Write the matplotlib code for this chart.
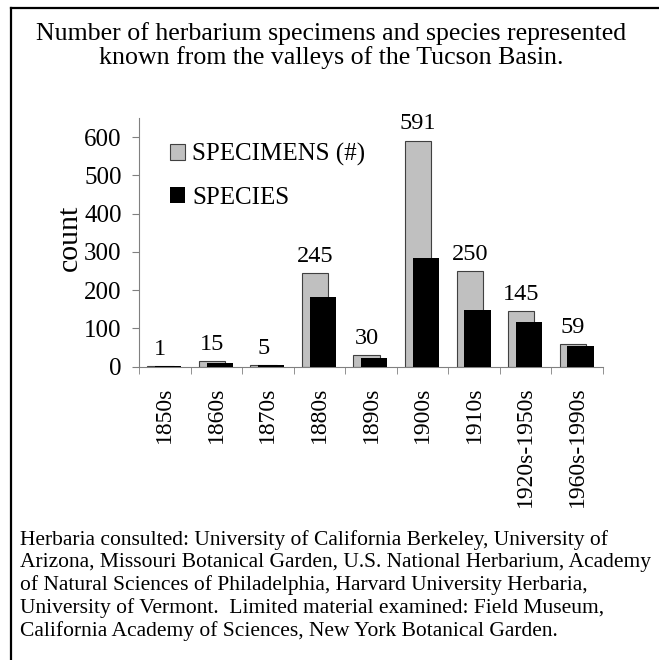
import numpy as np
import matplotlib.pyplot as plt
from matplotlib.lines import Line2D

plt.rcParams["font.family"] = ["Liberation Serif", "DejaVu Serif"]

decades = ["1850s", "1860s", "1870s", "1880s", "1890s", "1900s", "1910s",
           "1920s-1950s", "1960s-1990s"]
specimens = [1, 15, 5, 245, 30, 591, 250, 145, 59]
species = [1, 10, 4, 183, 24, 283, 148, 117, 54]

title = ("Number of herbarium specimens and species represented\n"
         "known from the valleys of the Tucson Basin.")
footnote = ("Herbaria consulted: University of California Berkeley, University of\n"
            "Arizona, Missouri Botanical Garden, U.S. National Herbarium, Academy\n"
            "of Natural Sciences of Philadelphia, Harvard University Herbaria,\n"
            "University of Vermont.  Limited material examined: Field Museum,\n"
            "California Academy of Sciences, New York Botanical Garden.")

fig = plt.figure(figsize=(6.59, 6.60), dpi=100)
ax = fig.add_axes([0.2109, 0.4444, 0.7041, 0.3768])

x = np.arange(len(decades))
ax.bar(x - 0.085, specimens, width=0.51, color="#c0c0c0", edgecolor="#404040",
       linewidth=0.8, label="SPECIMENS (#)", zorder=2)
ax.bar(x + 0.065, species, width=0.51, color="black", label="SPECIES", zorder=3)

for xi, v in zip(x, specimens):
    ax.annotate(str(v), (xi - 0.085, v), xytext=(0, 8), textcoords="offset points",
                ha="center", va="baseline", fontsize=17.5)

ax.set_xlim(-0.5, len(decades) - 0.5)
ax.set_ylim(0, 650)
ax.set_yticks(range(0, 700, 100))
ax.set_xticks(x)
ax.set_xticklabels(decades, rotation=90, fontsize=17, va="top")
ax.set_xticks(np.arange(-0.5, len(decades), 1), minor=True)
ax.tick_params(axis="x", which="major", length=0, pad=14)
ax.tick_params(axis="x", which="minor", length=5, color="#808080", direction="out")
ax.tick_params(axis="y", length=5, color="#808080", labelsize=18, pad=7.5)
for s in ["top", "right"]:
    ax.spines[s].set_visible(False)
for s in ["left", "bottom"]:
    ax.spines[s].set_color("#808080")
ax.set_ylabel("count", fontsize=21.5)
ax.yaxis.set_label_coords(-0.12, 0.52)

ax.legend(loc="upper left", bbox_to_anchor=(0.045, 0.94), frameon=False,
          fontsize=18, handlelength=0.6, handleheight=0.6, handletextpad=0.3,
          labelspacing=0.84, borderaxespad=0)

fig.text(0.502, 0.967, title, ha="center", va="top", fontsize=18.6, linespacing=1.09)
fig.text(0.030, 0.197, footnote, ha="left", va="top", fontsize=15.5, linespacing=1.21)

# border of the figure (only left and top show)
fig.add_artist(Line2D([11 / 659, 11 / 659], [0, 1 - 8 / 660], color="black", lw=1.6,
                      transform=fig.transFigure))
fig.add_artist(Line2D([11 / 659, 1], [1 - 8 / 660, 1 - 8 / 660], color="black", lw=1.6,
                      transform=fig.transFigure))

fig.savefig("out.png", dpi=100)
